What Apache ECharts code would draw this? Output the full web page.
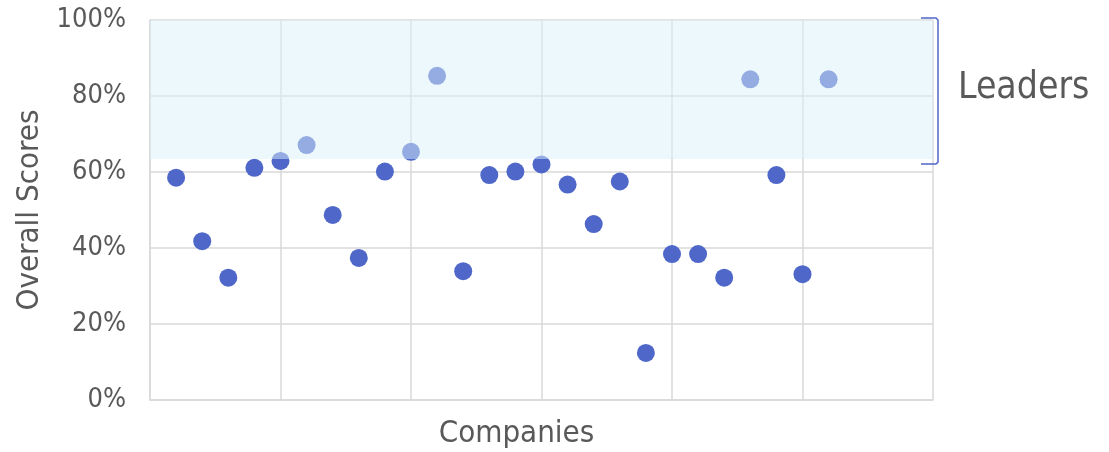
<!DOCTYPE html>
<html>
<head>
<meta charset="utf-8">
<script src="https://cdn.jsdelivr.net/npm/echarts@6/dist/echarts.min.js"></script>
<style>
html,body{margin:0;padding:0;background:#fff;}
#c{width:1109px;height:452px;}
</style>
</head>
<body>
<div id="c"></div>
<script>
// Data
const companyIndex = [1,2,3,4,5,6,7,8,9,10,11,12,13,14,15,16,17,18,19,20,21,22,23,24,25,26];
const overallScores = [58.5, 41.8, 32.2, 61.1, 62.9, 67.1, 48.7, 37.4, 60.1, 65.3, 85.3, 33.9, 59.2, 60.1, 62.0, 56.7, 46.3, 57.5, 12.4, 38.4, 38.4, 32.2, 84.4, 59.2, 33.1, 84.4];
const leadersRange = [63.4, 100];
const leadersLabel = 'Leaders';
const yTitle = 'Overall Scores';
const xTitle = 'Companies';

const FONT = '"DejaVu Sans Condensed", "DejaVu Sans", sans-serif';
const TXT = '#595959';
const GRID = '#D9D9D9';
const DOT = '#4E67C8';

const chart = echarts.init(document.getElementById('c'), null, {renderer: 'canvas'});
const points = companyIndex.map((x, i) => [x, overallScores[i]]);

const option = {
  animation: false,
  backgroundColor: '#fff',
  grid: {left: 150, right: 176, top: 20, bottom: 52, containLabel: false, outerBoundsMode: 'none'},
  xAxis: {
    type: 'value', min: 0, max: 30, interval: 5,
    name: xTitle, nameLocation: 'middle', nameGap: 18,
    nameTextStyle: {fontFamily: FONT, fontSize: 31, color: TXT, padding: [0, 50, 0, 0]},
    axisLine: {show: true, lineStyle: {color: GRID, width: 1.5}},
    axisTick: {show: false},
    axisLabel: {show: false},
    splitLine: {show: true, lineStyle: {color: GRID, width: 1.5}}
  },
  yAxis: {
    type: 'value', min: 0, max: 100, interval: 20,
    name: yTitle, nameLocation: 'middle', nameGap: 102,
    nameTextStyle: {fontFamily: FONT, fontSize: 31, color: TXT},
    axisLine: {show: true, lineStyle: {color: GRID, width: 1.5}},
    axisTick: {show: false},
    axisLabel: {formatter: '{value}%', fontFamily: FONT, fontSize: 27, color: TXT, margin: 24},
    splitLine: {show: true, lineStyle: {color: GRID, width: 1.5}}
  },
  series: [
    {
      type: 'scatter', z: 2,
      symbol: 'circle', symbolSize: 18,
      itemStyle: {color: DOT, opacity: 1},
      data: points
    },
    {
      type: 'scatter', zlevel: 1, z: 10, data: [],
      markArea: {
        silent: true, z: 10,
        itemStyle: {color: 'rgba(220,242,252,0.5)'},
        data: [[{xAxis: 0, yAxis: leadersRange[0]}, {xAxis: 30, yAxis: leadersRange[1]}]]
      }
    }
  ]
};
chart.setOption(option);

// bracket + label annotation positioned from the axis scale
const topPx = chart.convertToPixel({gridIndex: 0}, [30, leadersRange[1]]);
const botPx = chart.convertToPixel({gridIndex: 0}, [30, leadersRange[0]]);
const bx = topPx[0] + 5;
const y1 = topPx[1] - 2;
const y2 = botPx[1] + 5;
chart.setOption({
  graphic: [
    {
      type: 'polyline', z: 100, zlevel: 2,
      shape: {points: [[bx - 17, y1], [bx - 2, y1], [bx, y1 + 2], [bx, y2 - 2], [bx - 2, y2], [bx - 17, y2]]},
      style: {stroke: DOT, lineWidth: 1.5, fill: null}
    },
    {
      type: 'text', z: 100, zlevel: 2,
      x: bx + 20, y: (y1 + y2) / 2 - 3,
      style: {text: leadersLabel, fontFamily: FONT, fontSize: 37, fill: TXT, textVerticalAlign: 'middle', textAlign: 'left'}
    }
  ]
});
</script>
</body>
</html>
